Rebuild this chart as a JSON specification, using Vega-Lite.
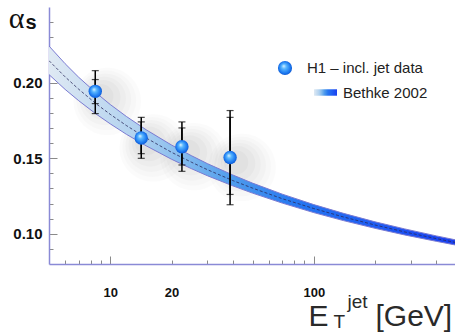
{
  "$schema": "https://vega.github.io/schema/vega-lite/v6.json",
  "width": 407,
  "height": 257,
  "autosize": {"type": "none"},
  "padding": {"left": 49, "top": 7, "right": 0, "bottom": 69},
  "background": "white",
  "config": {"view": {"stroke": null}, "axis": {"grid": false}},
  "datasets": {
    "band": [
      {"E": 5, "lo": 0.2053, "mid": 0.2145, "hi": 0.2242},
      {"E": 6, "lo": 0.1955, "mid": 0.2038, "hi": 0.2125},
      {"E": 7, "lo": 0.1880, "mid": 0.1956, "hi": 0.2035},
      {"E": 8.5, "lo": 0.1793, "mid": 0.1861, "hi": 0.1933},
      {"E": 10, "lo": 0.1727, "mid": 0.1790, "hi": 0.1855},
      {"E": 12, "lo": 0.1658, "mid": 0.1716, "hi": 0.1776},
      {"E": 15, "lo": 0.1582, "mid": 0.1634, "hi": 0.1688},
      {"E": 20, "lo": 0.1493, "mid": 0.1539, "hi": 0.1587},
      {"E": 25, "lo": 0.1431, "mid": 0.1474, "hi": 0.1517},
      {"E": 30, "lo": 0.1384, "mid": 0.1424, "hi": 0.1464},
      {"E": 40, "lo": 0.1317, "mid": 0.1352, "hi": 0.1389},
      {"E": 50, "lo": 0.1269, "mid": 0.1302, "hi": 0.1335},
      {"E": 70, "lo": 0.1203, "mid": 0.1232, "hi": 0.1262},
      {"E": 100, "lo": 0.1140, "mid": 0.1167, "hi": 0.1193},
      {"E": 140, "lo": 0.1087, "mid": 0.1111, "hi": 0.1135},
      {"E": 200, "lo": 0.1036, "mid": 0.1058, "hi": 0.1079},
      {"E": 280, "lo": 0.0992, "mid": 0.1012, "hi": 0.1032},
      {"E": 400, "lo": 0.0950, "mid": 0.0968, "hi": 0.0986},
      {"E": 500, "lo": 0.0925, "mid": 0.0942, "hi": 0.0959}
    ],
    "h1": [
      {"E": 8.44, "a": 0.1942, "olo": 0.1795, "ohi": 0.2079, "ilo": 0.1861, "ihi": 0.2020},
      {"E": 14.2, "a": 0.1634, "olo": 0.1499, "ohi": 0.1770, "ilo": 0.1530, "ihi": 0.1740},
      {"E": 22.5, "a": 0.1576, "olo": 0.1413, "ohi": 0.1740, "ilo": 0.1455, "ihi": 0.1700},
      {"E": 38.8, "a": 0.1505, "olo": 0.1192, "ohi": 0.1815, "ilo": 0.1260, "ihi": 0.1770}
    ]
  },
  "layer": [
    {
      "data": {"name": "h1"},
      "mark": {"type": "circle", "color": "#000000", "opacity": 0.014, "size": 4600, "xOffset": 12, "yOffset": 10},
      "encoding": {
        "x": {"field": "E", "type": "quantitative", "scale": {"type": "log", "domain": [5, 500], "nice": false}, "axis": null},
        "y": {"field": "a", "type": "quantitative", "scale": {"domain": [0.08, 0.25], "nice": false, "zero": false}, "axis": null}
      }
    },
    {
      "data": {"name": "h1"},
      "mark": {"type": "circle", "color": "#000000", "opacity": 0.016, "size": 3600, "xOffset": 11, "yOffset": 9},
      "encoding": {
        "x": {"field": "E", "type": "quantitative", "axis": null},
        "y": {"field": "a", "type": "quantitative", "axis": null}
      }
    },
    {
      "data": {"name": "h1"},
      "mark": {"type": "circle", "color": "#000000", "opacity": 0.018, "size": 2700, "xOffset": 10, "yOffset": 8},
      "encoding": {
        "x": {"field": "E", "type": "quantitative", "axis": null},
        "y": {"field": "a", "type": "quantitative", "axis": null}
      }
    },
    {
      "data": {"name": "h1"},
      "mark": {"type": "circle", "color": "#000000", "opacity": 0.02, "size": 1900, "xOffset": 9, "yOffset": 7},
      "encoding": {
        "x": {"field": "E", "type": "quantitative", "axis": null},
        "y": {"field": "a", "type": "quantitative", "axis": null}
      }
    },
    {
      "data": {"name": "h1"},
      "mark": {"type": "circle", "color": "#000000", "opacity": 0.022, "size": 1200, "xOffset": 8, "yOffset": 6},
      "encoding": {
        "x": {"field": "E", "type": "quantitative", "axis": null},
        "y": {"field": "a", "type": "quantitative", "axis": null}
      }
    },
    {
      "data": {"name": "h1"},
      "mark": {"type": "circle", "color": "#000000", "opacity": 0.025, "size": 600, "xOffset": 6, "yOffset": 5},
      "encoding": {
        "x": {"field": "E", "type": "quantitative", "axis": null},
        "y": {"field": "a", "type": "quantitative", "axis": null}
      }
    },
    {
      "data": {"name": "band"},
      "mark": {"type": "area", "clip": true, "fill": {"gradient": "linear", "x1": 0, "y1": 0, "x2": 1, "y2": 0, "stops": [
        {"offset": 0, "color": "#dfe9f3"},
        {"offset": 0.22, "color": "#b0d1ef"},
        {"offset": 0.33, "color": "#84bbee"},
        {"offset": 0.45, "color": "#4f9cec"},
        {"offset": 0.6, "color": "#2778f0"},
        {"offset": 0.8, "color": "#1f5cf2"},
        {"offset": 1, "color": "#1a40f0"}
      ]}},
      "encoding": {
        "x": {"field": "E", "type": "quantitative", "axis": {"orient": "bottom", "title": "E", "domain": false, "ticks": false, "labels": false, "titleX": 259, "titleY": 61, "titleAlign": "left", "titleBaseline": "alphabetic", "titleAngle": 0, "titleFont": "Liberation Sans", "titleFontSize": 30, "titleFontWeight": "normal", "titleColor": "#2a2a2a"}},
        "y": {"field": "lo", "type": "quantitative", "axis": {"orient": "left", "title": "α", "domain": false, "ticks": false, "labels": false, "titleX": -33, "titleY": 20, "titleAlign": "center", "titleBaseline": "alphabetic", "titleAngle": 0, "titleFont": "Liberation Serif", "titleFontSize": 30, "titleFontWeight": "normal", "titleColor": "#111"}},
        "y2": {"field": "hi"},
        "opacity": {"datum": "Bethke 2002", "type": "nominal", "scale": {"range": [1]}, "legend": {
          "orient": "none", "legendX": 264, "legendY": 73, "title": null, "padding": 0,
          "symbolSize": 529, "symbolType": "M-1,-0.28H1V0.28H-1Z", "labelOffset": 5,
          "labelFont": "Liberation Sans", "labelFontSize": 15, "labelColor": "#222",
          "encode": {"symbols": {"update": {
            "shape": {"value": "M-1,-0.28H1V0.28H-1Z"},
            "fill": {"value": {"gradient": "linear", "x1": 0, "y1": 0, "x2": 1, "y2": 0, "stops": [{"offset": 0, "color": "#f4f0dc"}, {"offset": 0.5, "color": "#6aa8ee"}, {"offset": 1, "color": "#1a4ef0"}]}},
            "stroke": {"value": "#3a5ad8"},
            "strokeWidth": {"value": 0.5},
            "opacity": {"value": 1},
            "fillOpacity": {"value": 1}
          }}}
        }}
      }
    },
    {
      "data": {"name": "band"},
      "mark": {"type": "line", "clip": true, "color": "#7a7ad2", "strokeWidth": 1},
      "encoding": {
        "x": {"field": "E", "type": "quantitative", "axis": {"orient": "bottom", "title": "T", "domain": false, "ticks": false, "labels": false, "titleX": 284, "titleY": 63, "titleAlign": "left", "titleBaseline": "alphabetic", "titleAngle": 0, "titleFont": "Liberation Sans", "titleFontSize": 19, "titleFontWeight": "normal", "titleColor": "#2a2a2a"}},
        "y": {"field": "hi", "type": "quantitative", "axis": {"orient": "left", "title": "s", "domain": false, "ticks": false, "labels": false, "titleX": -24, "titleY": 21, "titleAlign": "left", "titleBaseline": "alphabetic", "titleAngle": 0, "titleFont": "Liberation Sans", "titleFontSize": 20, "titleFontWeight": "bold", "titleColor": "#111"}}
      }
    },
    {
      "data": {"name": "band"},
      "mark": {"type": "line", "clip": true, "color": "#7a7ad2", "strokeWidth": 1},
      "encoding": {
        "x": {"field": "E", "type": "quantitative", "axis": {"orient": "bottom", "title": "jet", "domain": false, "ticks": false, "labels": false, "titleX": 298, "titleY": 43, "titleAlign": "left", "titleBaseline": "alphabetic", "titleAngle": 0, "titleFont": "Liberation Sans", "titleFontSize": 19, "titleFontWeight": "normal", "titleColor": "#2a2a2a"}},
        "y": {"field": "lo", "type": "quantitative", "axis": null}
      }
    },
    {
      "data": {"name": "band"},
      "mark": {"type": "line", "clip": true, "color": "#2a2a5a", "strokeWidth": 0.8, "strokeDash": [3, 2]},
      "encoding": {
        "x": {"field": "E", "type": "quantitative", "axis": {"orient": "bottom", "title": "[GeV]", "domain": false, "ticks": false, "labels": false, "titleX": 326, "titleY": 61, "titleAlign": "left", "titleBaseline": "alphabetic", "titleAngle": 0, "titleFont": "Liberation Sans", "titleFontSize": 30, "titleFontWeight": "normal", "titleColor": "#2a2a2a"}},
        "y": {"field": "mid", "type": "quantitative", "axis": null}
      }
    },
    {
      "data": {"name": "h1"},
      "mark": {"type": "errorbar", "ticks": {"size": 7, "thickness": 1.2, "color": "#000"}, "rule": {"strokeWidth": 1.5, "color": "#000"}},
      "encoding": {
        "x": {"field": "E", "type": "quantitative", "axis": null},
        "y": {"field": "olo", "type": "quantitative", "axis": null},
        "y2": {"field": "ohi"}
      }
    },
    {
      "data": {"name": "h1"},
      "mark": {"type": "errorbar", "ticks": {"size": 7, "thickness": 1.2, "color": "#000"}, "rule": {"strokeWidth": 1.5, "color": "#000"}},
      "encoding": {
        "x": {"field": "E", "type": "quantitative", "axis": null},
        "y": {"field": "ilo", "type": "quantitative", "axis": null},
        "y2": {"field": "ihi"}
      }
    },
    {
      "data": {"name": "h1"},
      "mark": {"type": "point", "filled": true, "size": 180, "opacity": 1, "strokeWidth": 0, "fill": {"gradient": "radial", "x1": 0.4, "y1": 0.35, "r1": 0, "x2": 0.5, "y2": 0.5, "r2": 0.55, "stops": [
        {"offset": 0, "color": "#e6f6ff"},
        {"offset": 0.3, "color": "#5ab8ff"},
        {"offset": 0.75, "color": "#1a78f0"},
        {"offset": 1, "color": "#0b4fc8"}
      ]}},
      "encoding": {
        "x": {"field": "E", "type": "quantitative", "axis": {
          "orient": "bottom", "title": null,
          "values": [6, 7, 8, 9, 10, 20, 30, 40, 50, 60, 70, 80, 90, 100, 200, 300, 400],
          "format": "d",
          "labelExpr": "datum.value == 10 || datum.value == 20 || datum.value == 100 ? datum.label : ''",
          "tickSize": {"condition": {"test": "datum.value == 10 || datum.value == 100", "value": -8}, "value": -4},
          "labelPadding": {"condition": {"test": "datum.value == 10 || datum.value == 100", "value": 30}, "value": 26},
          "labelBaseline": "top",
          "tickColor": "#8a8a8a", "tickWidth": 1,
          "domainColor": "#8a8ad6", "domainWidth": 1.5,
          "labelFont": "Liberation Sans", "labelFontWeight": "bold", "labelFontSize": 13, "labelColor": "#111",
          "labelFlush": false, "labelOverlap": false
        }},
        "y": {"field": "a", "type": "quantitative", "axis": {
          "orient": "left", "title": null,
          "values": [0.09, 0.1, 0.11, 0.12, 0.13, 0.14, 0.15, 0.16, 0.17, 0.18, 0.19, 0.2, 0.21, 0.22, 0.23, 0.24],
          "format": ".2f",
          "labelExpr": "datum.value == 0.1 || datum.value == 0.15 || datum.value == 0.2 ? datum.label : ''",
          "tickSize": {"condition": {"test": "datum.value == 0.1 || datum.value == 0.15 || datum.value == 0.2", "value": -8}, "value": -4},
          "labelPadding": 15,
          "tickColor": "#8a8a8a", "tickWidth": 1,
          "domainColor": "#8a8ad6", "domainWidth": 1.5,
          "labelFont": "Liberation Sans", "labelFontWeight": "bold", "labelFontSize": 15, "labelColor": "#111",
          "labelFlush": false, "labelOverlap": false
        }},
        "shape": {"datum": "H1 – incl. jet data", "scale": {"range": ["circle"]}, "legend": {
          "orient": "none", "legendX": 228, "legendY": 53, "title": null, "padding": 0,
          "symbolSize": 200, "labelOffset": 14,
          "labelFont": "Liberation Sans", "labelFontSize": 15, "labelColor": "#222",
          "encode": {"symbols": {"update": {
            "fill": {"value": {"gradient": "radial", "x1": 0.4, "y1": 0.35, "r1": 0, "x2": 0.5, "y2": 0.5, "r2": 0.55, "stops": [{"offset": 0, "color": "#e6f6ff"}, {"offset": 0.3, "color": "#5ab8ff"}, {"offset": 0.75, "color": "#1a78f0"}, {"offset": 1, "color": "#0b4fc8"}]}},
            "strokeWidth": {"value": 0},
            "opacity": {"value": 1}
          }}}
        }}
      }
    }
  ],
  "resolve": {"axis": {"x": "independent", "y": "independent"}}
}
